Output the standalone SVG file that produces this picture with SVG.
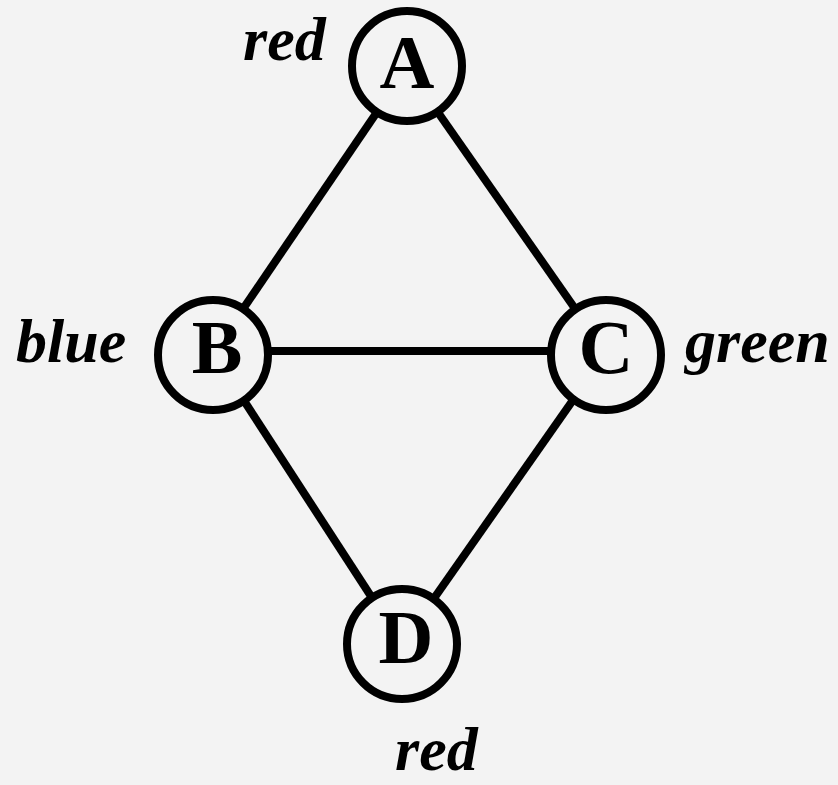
<svg xmlns="http://www.w3.org/2000/svg" width="838" height="785" viewBox="0 0 838 785">
<style>
.bg{fill:#f3f3f3}
.edge{stroke:#000;stroke-width:8;stroke-linecap:butt}
.node{fill:#f3f3f3;stroke:#000;stroke-width:8}
.lbl{font-family:"Liberation Serif","Times New Roman",serif;font-weight:bold;font-size:76px;text-anchor:middle}
.col{font-family:"Liberation Serif","Times New Roman",serif;font-weight:bold;font-style:italic;font-size:62px}
</style>
<rect class="bg" x="0" y="0" width="838" height="785"/>
<g id="edges">
<line class="edge" x1="407" y1="68" x2="213" y2="353"/>
<line class="edge" x1="407" y1="68" x2="606" y2="353"/>
<line class="edge" x1="213" y1="351" x2="606" y2="351"/>
<line class="edge" x1="213" y1="353" x2="402" y2="644"/>
<line class="edge" x1="606" y1="353" x2="402" y2="644"/>
</g>
<g id="A"><circle class="node" cx="407" cy="66" r="55"/><text class="lbl" x="407" y="88">A</text></g>
<g id="B"><circle class="node" cx="213" cy="355" r="55"/><text class="lbl" x="217" y="373">B</text></g>
<g id="C"><circle class="node" cx="606" cy="355" r="55"/><text class="lbl" x="606" y="373">C</text></g>
<g id="D"><circle class="node" cx="402" cy="644" r="55"/><text class="lbl" x="406" y="663">D</text></g>
<text class="col" x="243" y="60">red</text>
<text class="col" x="16" y="362">blue</text>
<text class="col" x="685" y="362">green</text>
<text class="col" x="395" y="770">red</text>
</svg>
